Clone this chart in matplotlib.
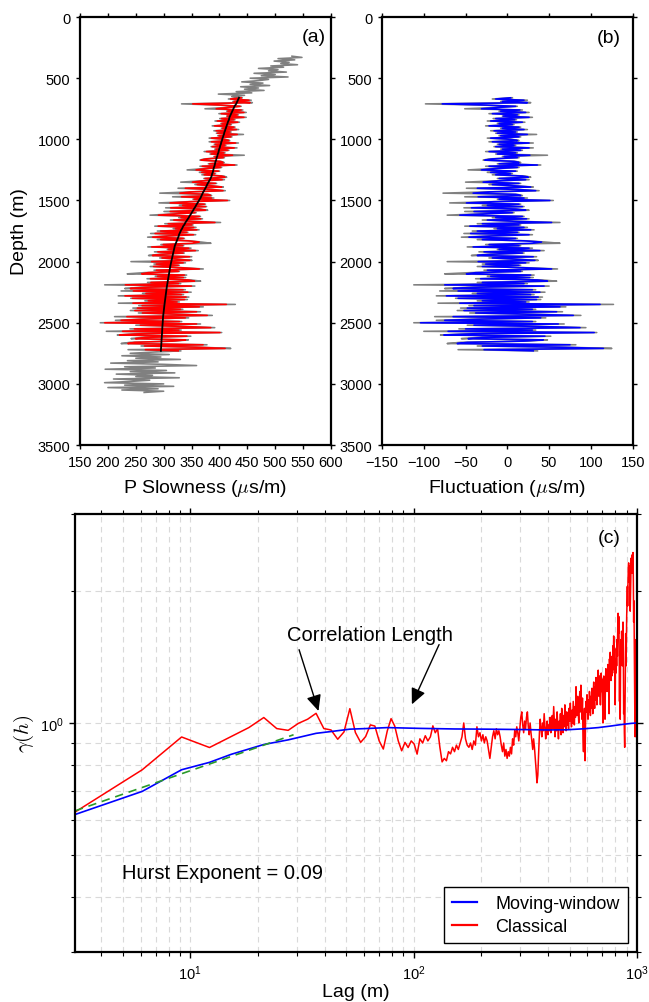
import numpy as np
import matplotlib
matplotlib.use("Agg")
import matplotlib.pyplot as plt
from matplotlib.ticker import MultipleLocator, LogLocator, NullFormatter
from matplotlib.lines import Line2D

plt.rcParams['font.family'] = ['Liberation Sans', 'DejaVu Sans']
plt.rcParams['mathtext.fontset'] = 'custom'
plt.rcParams['mathtext.rm'] = 'Liberation Sans'
plt.rcParams['mathtext.it'] = 'Liberation Sans:italic'
plt.rcParams['mathtext.bf'] = 'Liberation Sans:bold'

# ---------------- data: well log (depth in m, slowness in us/m) ----------------
depth_step = 10
depth_top = np.arange(320, 651, depth_step)      # raw log above analysed window
depth_mid = np.arange(660, 2731, depth_step)     # analysed window
depth_bot = np.arange(2740, 3071, depth_step)    # raw log below analysed window

gray_top = [530, 548, 505, 535, 498, 525, 510, 540, 492, 515,
            470, 505, 488, 520, 462, 500, 475, 523, 455, 488,
            470, 440, 478, 455, 490, 438, 470, 445, 480, 430,
            458, 398, 445, 422]

gray_bot = [280, 240, 310, 225, 295, 250, 330, 235, 290, 205,
            300, 359, 230, 285, 195, 305, 240, 320, 215, 280,
            250, 328, 210, 275, 240, 194, 300, 230, 318, 200,
            290, 225, 300, 265]

trend = [435, 434, 433, 432, 431, 430, 428.5, 427, 426, 425, 424, 423, 422, 421, 420,
         419, 418, 417.5, 417, 416, 415, 414.5, 413.5, 413, 412, 411.5, 410.5, 410, 409, 408.5,
         408, 407, 406.5, 405.5, 405,
         404.5, 403.5, 403, 402.5, 401.5, 401, 400.5, 399.5, 399, 398.5, 398, 397, 396.5, 396, 395,
         394.5, 394, 393, 392.5, 392,
         391.5, 391, 390, 389.5, 389, 388.5, 388, 387, 386.5, 386, 385, 384, 383, 381.5, 380.5,
         379, 378, 377, 376, 374.7,
         373.5, 372.5, 371, 370, 369, 368, 367, 366, 364.5, 363.4, 362, 360.5, 359, 358, 357,
         355.5, 354, 353, 351.5, 350.3,
         349, 347.5, 346, 345, 343.6, 342, 340.5, 339, 338, 336.7, 335, 334, 333, 331.5, 330.6,
         329.5, 328.5, 327.5, 327, 326.2,
         325.3, 324.5, 323.6, 322.7, 321.8, 321, 320, 319.5, 319, 318.5, 318, 317.5, 317, 316.5, 315.9,
         315.4, 314.9, 314.3, 313.8, 313.3,
         313, 312.6, 312.2, 311.8, 311.4, 311, 310.6, 310.3, 310, 309.6, 309.2, 308.8, 308.5, 308.1, 307.7,
         307.3, 307, 306.6, 306.2, 305.9,
         305.5, 305.2, 304.9, 304.6, 304.3, 304, 303.7, 303.5, 303.2, 302.9, 302.6, 302.3, 302.1, 301.8, 301.5,
         301.2, 301, 300.7, 300.4, 300.2,
         300, 299.7, 299.4, 299.2, 298.9, 298.8, 298.6, 298.5, 298.4, 298.2, 298.1, 298, 297.8, 297.6, 297.5,
         297.4, 297.2, 297.1, 297, 296.8,
         296.7, 296.5, 296.4, 296.2, 296.1, 296, 295.8, 295.7, 295.5, 295.4, 295.3, 295.1, 295]

# fluctuation of the filtered log about the trend (blue / red)
blue_fluct = [4, -14, 20, -6, 24, -78, -25, 10, -12, -31,
              15, -8, 22, -18, 12, -5, 26, -14, 9, -20,
              18, -10, 6, -22, 14, -6, 20, -16, 10, -12,
              24, -8, 14, -20, 4, 12, -18, 26, -10, 8,
              -14, 26, -6, 16, -22, 10, -12, 27, -4, 12,
              -18, -27, 8, 14, -10, 36, -22, 12, -16, -31,
              10, -20, 4, -14, 18, 25, -10, 22, -12, -29,
              14, -18, 8, 28, -36, 12, 34, -22, -41, 10,
              16, -35, 20, -10, 51, -16, -49, 14, -24, 18,
              -43, 10, 22, -40, 6, -28, -57, 18, -14, 23,
              -24, 8, 53, -30, 14, -45, 20, -12, 28, -36,
              12, -44, 26, -18, -46, 10, -30, 20, 41, 30,
              -22, 14, -41, 26, -10, 39, -28, 18, -20, -36,
              31, -18, 10, 33, -35, 22, -26, 14, -30, 20,
              53, -24, 16, -38, -49, 28, -20, 27, -32, 36,
              48, -30, 20, -75, 44, -40, -65, 30, -59, 39,
              -36, 28, -73, 37, -59, 35, -30, 22, -57, 111,
              -40, 63, -48, 30, -52, 59, -38, 24, 79, -65,
              40, -30, -75, 30, -104, 61, -40, 35, 87, -50,
              30, -71, 104, -40, -76, 45, -30, -47, 43, 20,
              -48, -60, 75, -30, 63, 115, -28, 31]

# fluctuation of the raw log about the trend (gray)
gray_fluct = [6, -18, 24, -8, 28, -98, -30, 12, -16, -51,
              18, -10, 26, -22, 14, -6, 30, -17, 11, -24,
              21, -12, 8, -26, 16, -8, 24, -20, 12, -14,
              35, -10, 16, -24, 6, 14, -22, 31, -12, 10,
              -16, 31, -8, 18, -26, 12, -14, 48, -6, 14,
              -22, -29, 10, 16, -12, 40, -26, 14, -20, -47,
              12, -24, 6, -18, 22, 28, -12, 26, -16, -50,
              16, -22, 10, 31, -49, 14, 38, -26, -77, 12,
              18, -51, 24, -12, 55, -20, -69, 16, -30, 20,
              -52, 12, 26, -51, 8, -34, -72, 20, -18, 26,
              -30, 10, 63, -36, 16, -51, 24, -16, 32, -42,
              14, -52, 30, -22, -55, 12, -36, 24, 45, 63,
              -26, 16, -48, 30, -12, 44, -34, 20, -24, -43,
              35, -22, 12, 37, -72, 26, -30, 16, -36, 24,
              60, -28, 18, -44, -75, 32, -24, 31, -38, 42,
              59, -36, 24, -112, 50, -48, -75, 34, -81, 45,
              -42, 32, -85, 42, -62, 40, -36, 26, -83, 127,
              -46, 70, -56, 34, -60, 66, -45, 28, 88, -87,
              46, -36, -85, 34, -112, 68, -48, 40, 94, -58,
              34, -100, 107, -46, -80, 52, -36, -55, 48, 24,
              -56, -72, 82, -36, 70, 125, -59, 36]

# ---------------- data: variograms ----------------
lag_step = 3.048
classical_gamma = [
    0.626, 0.782, 0.929, 0.879, 0.931, 0.976, 1.029, 0.971, 0.962, 0.998,
    1.02, 1.052, 0.971, 0.964, 0.918, 0.954, 1.078, 0.951, 0.903, 0.931,
    0.99, 0.984, 0.91, 0.872, 0.959, 1.023, 0.984, 0.91, 0.864, 0.903,
    0.879, 0.91, 0.895, 0.849, 0.92, 0.90, 0.935, 0.91, 0.93, 0.985,
    0.95, 0.97, 0.88, 0.815, 0.83, 0.82, 0.86, 0.85, 0.88, 0.86,
    0.89, 0.87, 0.90, 0.93, 1.0, 0.92, 0.89, 0.88, 0.90, 0.87,
    0.91, 0.89, 0.98, 0.93, 0.95, 0.91, 0.94, 0.90, 0.93, 0.91,
    0.87, 0.83, 0.88, 0.93, 0.96, 0.92, 0.97, 0.94, 0.96, 0.93,
    0.89, 0.86, 0.90, 0.84, 0.87, 0.83, 0.86, 0.84, 0.88, 0.85,
    0.92, 0.89, 0.96, 0.93, 0.98, 0.95, 0.91, 0.97, 1.03, 1.06,
    0.99, 0.95, 1.01, 0.97, 1.03, 1.06, 0.98, 0.94, 1.0, 0.95,
    0.91, 0.87, 0.92, 0.88, 0.83, 0.78, 0.73, 0.76, 0.85, 0.95,
    1.02, 0.97, 0.93, 1.0, 0.96, 1.05, 0.98, 0.92, 0.97, 1.01,
    0.94, 0.99, 0.96, 1.03, 0.95, 0.98, 1.04, 0.97, 1.09, 1.0,
    0.93, 1.02, 0.96, 1.06, 0.98, 0.92, 1.01, 0.97, 1.05, 0.94,
    1.08, 1.0, 0.95, 1.04, 0.98, 1.1, 1.02, 0.96, 1.06, 0.99,
    1.04, 0.97, 1.08, 1.01, 1.11, 1.03, 0.98, 1.07, 1.0, 1.12,
    1.05, 0.99, 1.09, 1.03, 1.21, 1.1, 1.04, 1.15, 1.07, 1.0,
    1.12, 1.18, 1.06, 1.22, 1.1, 1.02, 1.14, 0.92, 0.86, 0.98,
    1.08, 0.82, 1.0, 1.12, 1.06, 1.16, 1.09, 1.02, 1.13, 1.06,
    1.18, 1.1, 1.04, 1.15, 1.08, 1.2, 1.12, 1.05, 1.17, 1.24,
    1.14, 1.08, 1.21, 1.13, 1.27, 1.18, 1.1, 1.26, 1.19, 1.32,
    1.22, 1.15, 1.28, 1.2, 1.1, 1.24, 1.3, 1.18, 1.26, 1.14,
    1.0, 1.2, 1.28, 1.16, 1.22, 1.02, 1.25, 1.33, 1.2, 1.27,
    1.18, 1.3, 1.36, 1.24, 1.32, 1.05, 1.4, 1.3, 1.45, 1.33,
    1.25, 1.38, 1.28, 1.42, 1.32, 1.5, 1.4, 1.58, 1.46, 1.3,
    1.36, 1.1, 1.4, 1.3, 1.48, 1.35, 1.55, 1.42, 1.65, 1.78,
    1.6, 1.75, 1.5, 1.12, 1.45, 1.02, 1.38, 1.55, 1.4, 1.62,
    1.5, 1.35, 1.55, 1.7, 1.45, 1.05, 1.15, 0.95, 0.88, 1.1,
    1.45, 1.6, 1.35, 1.5, 1.75, 1.9, 2.05, 1.85, 2.1, 2.25,
    2.32, 2.1, 2.2, 2.28, 2.05, 1.8, 2.0, 2.3, 2.38, 2.2,
    2.35, 2.42, 2.2, 2.38, 2.45, 2.1, 1.7, 1.9, 1.5, 1.2,
    1.0, 0.93, 1.3, 1.55, 1.4, 1.5, 1.45, 1.52]

mw_lag_index = [1, 2, 3, 4, 5, 7, 9, 12, 14, 17, 20, 25, 35, 50, 70, 100,
                130, 160, 190, 220, 250, 280, 310, 328]
mw_gamma = [0.618, 0.698, 0.782, 0.813, 0.848, 0.893, 0.915, 0.947, 0.956,
            0.968, 0.971, 0.976, 0.972, 0.969, 0.968, 0.966, 0.964, 0.965,
            0.970, 0.976, 0.984, 0.992, 0.998, 1.0]

fit_lag = [3.048, 29.0]
fit_gamma = [0.63, 0.94]
hurst = 0.09

# ---------------- derived ----------------
trend_arr = np.array(trend, dtype=float)
red_a = trend_arr + np.array(blue_fluct)
gray_a = np.concatenate([gray_top, trend_arr + np.array(gray_fluct), gray_bot])
depth_all = np.concatenate([depth_top, depth_mid, depth_bot])
lag_classical = lag_step * np.arange(1, len(classical_gamma) + 1)
lag_mw = lag_step * np.array(mw_lag_index)

# ---------------- figure ----------------
fig = plt.figure(figsize=(6.49, 10.03), dpi=100)
axa = fig.add_axes([0.1233, 0.5553, 0.3867, 0.4267])
axb = fig.add_axes([0.5886, 0.5553, 0.3863, 0.4267])
axc = fig.add_axes([0.1156, 0.04985, 0.8659, 0.4367])

spine_lw = 1.6
log_lw = 1.15
tick_kw = dict(direction='out', top=True, right=True, length=3, width=1.0,
               labelsize=10.5, pad=4)

# panel (a)
axa.plot(gray_a, depth_all, color='#808080', lw=log_lw)
axa.plot(red_a, depth_mid, color='#ff0000', lw=log_lw)
axa.plot(trend_arr, depth_mid, color='black', lw=1.3)
axa.set_xlim(150, 600)
axa.set_ylim(3500, 0)
axa.xaxis.set_major_locator(MultipleLocator(50))
axa.yaxis.set_major_locator(MultipleLocator(500))
axa.tick_params(**tick_kw)
axa.set_xlabel(r'P Slowness ($\mu$s/m)', fontsize=14, labelpad=6, math_fontfamily='cm')
axa.set_ylabel('Depth (m)', fontsize=14, labelpad=7)
axa.text(0.98, 0.9446, '(a)', transform=axa.transAxes, ha='right',
         va='baseline', fontsize=14)

# panel (b)
axb.plot(gray_fluct, depth_mid, color='#808080', lw=log_lw)
axb.plot(blue_fluct, depth_mid, color='#0000ff', lw=log_lw)
axb.set_xlim(-150, 150)
axb.set_ylim(3500, 0)
axb.xaxis.set_major_locator(MultipleLocator(50))
axb.yaxis.set_major_locator(MultipleLocator(500))
axb.tick_params(**tick_kw)
axb.set_xlabel(r'Fluctuation ($\mu$s/m)', fontsize=14, labelpad=6, math_fontfamily='cm')
axb.text(0.953, 0.941, '(b)', transform=axb.transAxes, ha='right',
         va='baseline', fontsize=14)

# panel (c)
axc.set_xscale('log')
axc.set_yscale('log')
axc.set_xlim(lag_step, 1000)
axc.set_ylim(0.3, 3)
axc.set_axisbelow(True)
axc.grid(True, which='both', linestyle=(0, (5, 4)), color='#d9d9d9', lw=0.8)
axc.plot(lag_classical, classical_gamma, color='#ff0000', lw=1.1)
axc.plot(lag_mw, mw_gamma, color='#0000ff', lw=1.2)
axc.plot(fit_lag, fit_gamma, color='#2a9a2a', lw=1.2, linestyle=(0, (5, 3.5)))
axc.xaxis.set_minor_formatter(NullFormatter())
axc.yaxis.set_minor_formatter(NullFormatter())
axc.yaxis.set_major_locator(LogLocator(base=10))
axc.tick_params(which='major', direction='out', top=True, right=True,
                length=4, width=1.0, labelsize=10.5, pad=4)
axc.tick_params(which='minor', direction='out', top=True, right=True,
                length=3, width=0.8)
axc.set_xlabel('Lag (m)', fontsize=14, labelpad=1)
axc.set_ylabel(r'$\gamma(h)$', fontsize=15, math_fontfamily='cm', labelpad=3)

arrow_kw = dict(arrowstyle='-|>,head_length=0.6,head_width=0.28', color='black',
                lw=1.0, mutation_scale=16, shrinkA=0, shrinkB=0)
axc.annotate('', xy=(37.5, 1.065), xytext=(30.7, 1.47), arrowprops=arrow_kw)
axc.annotate('', xy=(98.2, 1.103), xytext=(130, 1.51), arrowprops=arrow_kw)
axc.text(63.8, 1.549, 'Correlation Length', ha='center', va='baseline', fontsize=14.5)
axc.text(4.95, 0.443, 'Hurst Exponent = %.2f' % hurst, ha='left', va='baseline',
         fontsize=14.5)
axc.text(0.97, 0.936, '(c)', transform=axc.transAxes, ha='right', va='baseline',
         fontsize=14)

handles = [Line2D([], [], color='#0000ff', lw=1.6), Line2D([], [], color='#ff0000', lw=1.6)]
leg = axc.legend(handles, ['Moving-window', 'Classical'], loc='lower right',
                 fontsize=13, fancybox=False, edgecolor='black', framealpha=1,
                 handlelength=1.4, handletextpad=1.0, borderpad=0.45,
                 labelspacing=0.3, borderaxespad=0.5)
leg.get_frame().set_linewidth(1.0)

for ax in (axa, axb, axc):
    for s in ax.spines.values():
        s.set_linewidth(spine_lw)

fig.savefig('out.png', dpi=100)
